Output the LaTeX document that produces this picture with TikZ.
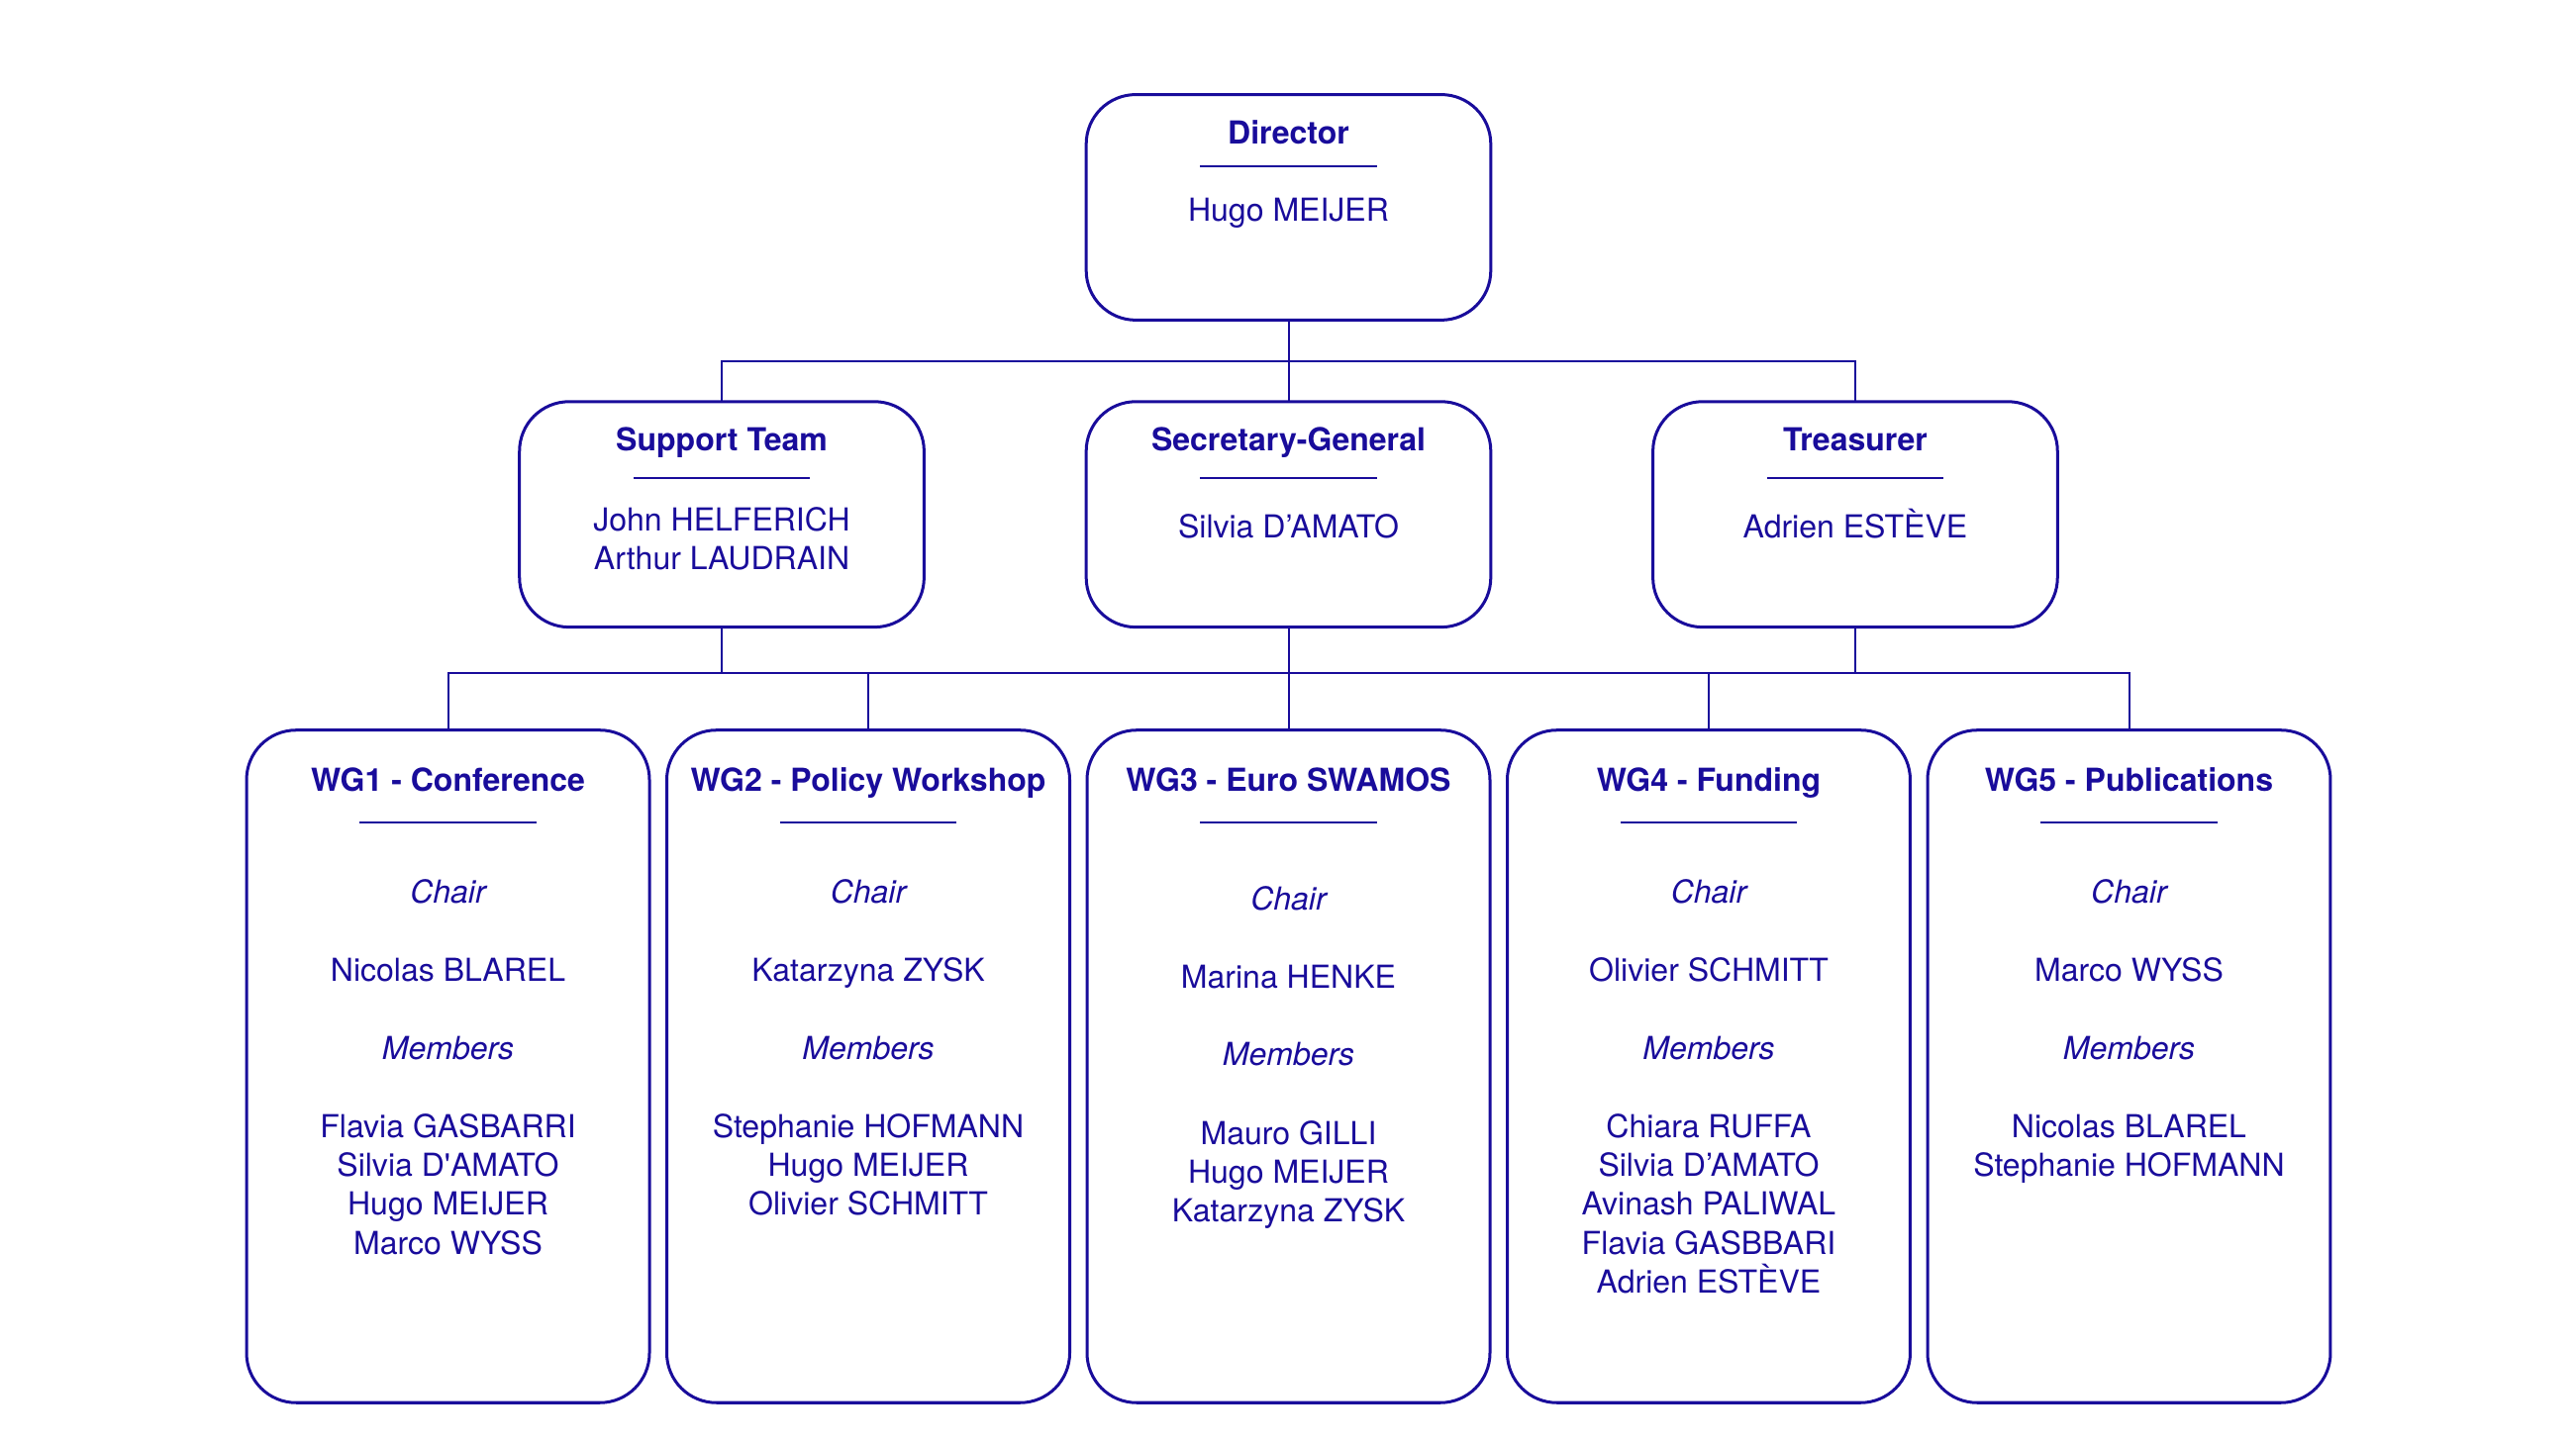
\documentclass[tikz,border=0pt]{standalone}
\usepackage{fontspec}
\setmainfont{TeX Gyre Heros}[Ligatures=TeXOff]
\usetikzlibrary{positioning}
\definecolor{orgblue}{RGB}{25, 12, 155}
\tikzstyle{unit}=[draw=orgblue,line width=0.9pt,rounded corners=15pt,minimum width=122.5pt,minimum height=68.3pt,inner sep=0pt,outer sep=0pt]
\tikzstyle{wg}=[unit,minimum width=122pt,minimum height=203.7pt]
\tikzstyle{head}=[text=orgblue,font=\fontsize{9.6}{11.72}\selectfont\bfseries,anchor=base,inner sep=0pt]
\tikzstyle{txt}=[text=orgblue,font=\fontsize{9.6}{11.72}\selectfont,anchor=base,align=center,inner sep=0pt]
\tikzstyle{role}=[txt,font=\fontsize{9.6}{11.72}\selectfont\itshape]
\tikzstyle{rule}=[draw=orgblue,line width=0.7pt]
\tikzstyle{link}=[draw=orgblue,line width=0.6pt]

\begin{document}
\begin{tikzpicture}
  \useasboundingbox (0,0) rectangle (780pt,-437.66pt);
  % boxes
  \node (dir) [unit] at (390.15pt,-62.8pt) {};
  \node (sec) [unit, below=24.7pt of dir] {};
  \node (sup) [unit, left=49.1pt of sec] {};
  \node (tre) [unit, right=49.1pt of sec] {};
  \node (wg3) [wg, below=31.2pt of sec] {};
  \node (wg2) [wg, left=5.25pt of wg3] {};
  \node (wg1) [wg, left=5.25pt of wg2] {};
  \node (wg4) [wg, right=5.25pt of wg3] {};
  \node (wg5) [wg, right=5.25pt of wg4] {};

  % connectors
  \coordinate (top) at ([yshift=-12.4pt]dir.south);
  \coordinate (mid) at ([yshift=-14pt]sec.south);
  \draw[link] (dir.south) -- (top);
  \draw[link] (sup.north) |- (top) -| (tre.north);
  \draw[link] (top) -- (sec.north);
  \draw[link] (wg1.north) |- (mid) -| (wg5.north);
  \foreach \n in {sup,sec,tre} \draw[link] (\n.south) -- (\n.south |- mid);
  \foreach \n in {wg2,wg3,wg4} \draw[link] (\n.north) -- (\n.north |- mid);

  % director
  \node (dir-t) [head] at ([yshift=-15pt]dir.north) {Director};
  \draw[rule] ([xshift=-26.75pt,yshift=-21.8pt]dir.north) -- ([xshift=26.75pt,yshift=-21.8pt]dir.north);
  \node (dir-n) [txt] at ([yshift=-38.3pt]dir.north) {Hugo MEIJER};

  % second row
  \foreach \n/\t in {sup/Support Team,sec/Secretary-General,tre/Treasurer} {
    \node (\n-t) [head] at ([yshift=-15pt]\n.north) {\t};
    \draw[rule] ([xshift=-26.75pt,yshift=-23.2pt]\n.north) -- ([xshift=26.75pt,yshift=-23.2pt]\n.north);
  }
  % multi-line nodes sit on their last baseline
  \node (sup-n) [txt] at ([yshift=-50.8pt]sup.north) {John HELFERICH\\Arthur LAUDRAIN};
  \node (sec-n) [txt] at ([yshift=-41.2pt]sec.north) {Silvia D’AMATO};
  \node (tre-n) [txt] at ([yshift=-41.2pt]tre.north) {Adrien ESTÈVE};

  % working groups
  \foreach \n/\t/\dy in {wg1/WG1 - Conference/0pt,wg2/WG2 - Policy Workshop/0pt,wg3/WG3 - Euro SWAMOS/2pt,wg4/WG4 - Funding/0pt,wg5/WG5 - Publications/0pt} {
    \node (\n-t) [head] at ([yshift=-18.5pt]\n.north) {\t};
    \draw[rule] ([xshift=-26.75pt,yshift=-28pt]\n.north) -- ([xshift=26.75pt,yshift=-28pt]\n.north);
    \node (\n-c) [role] at ([yshift={-52.5pt-\dy}]\n.north) {Chair};
    \node (\n-m) [role] at ([yshift={-99.7pt-\dy}]\n.north) {Members};
  }
  \node (wg1-cn) [txt] at ([yshift=-76.1pt]wg1.north) {Nicolas BLAREL};
  \node (wg2-cn) [txt] at ([yshift=-76.1pt]wg2.north) {Katarzyna ZYSK};
  \node (wg3-cn) [txt] at ([yshift=-78.1pt]wg3.north) {Marina HENKE};
  \node (wg4-cn) [txt] at ([yshift=-76.1pt]wg4.north) {Olivier SCHMITT};
  \node (wg5-cn) [txt] at ([yshift=-76.1pt]wg5.north) {Marco WYSS};

  \node (wg1-mn) [txt] at ([yshift=-158.66pt]wg1.north) {Flavia GASBARRI\\Silvia D'AMATO\\Hugo MEIJER\\Marco WYSS};
  \node (wg2-mn) [txt] at ([yshift=-146.94pt]wg2.north) {Stephanie HOFMANN\\Hugo MEIJER\\Olivier SCHMITT};
  \node (wg3-mn) [txt] at ([yshift=-148.94pt]wg3.north) {Mauro GILLI\\Hugo MEIJER\\Katarzyna ZYSK};
  \node (wg4-mn) [txt] at ([yshift=-170.38pt]wg4.north) {Chiara RUFFA\\Silvia D’AMATO\\Avinash PALIWAL\\Flavia GASBBARI\\Adrien ESTÈVE};
  \node (wg5-mn) [txt] at ([yshift=-135.22pt]wg5.north) {Nicolas BLAREL\\Stephanie HOFMANN};
\end{tikzpicture}
\end{document}
